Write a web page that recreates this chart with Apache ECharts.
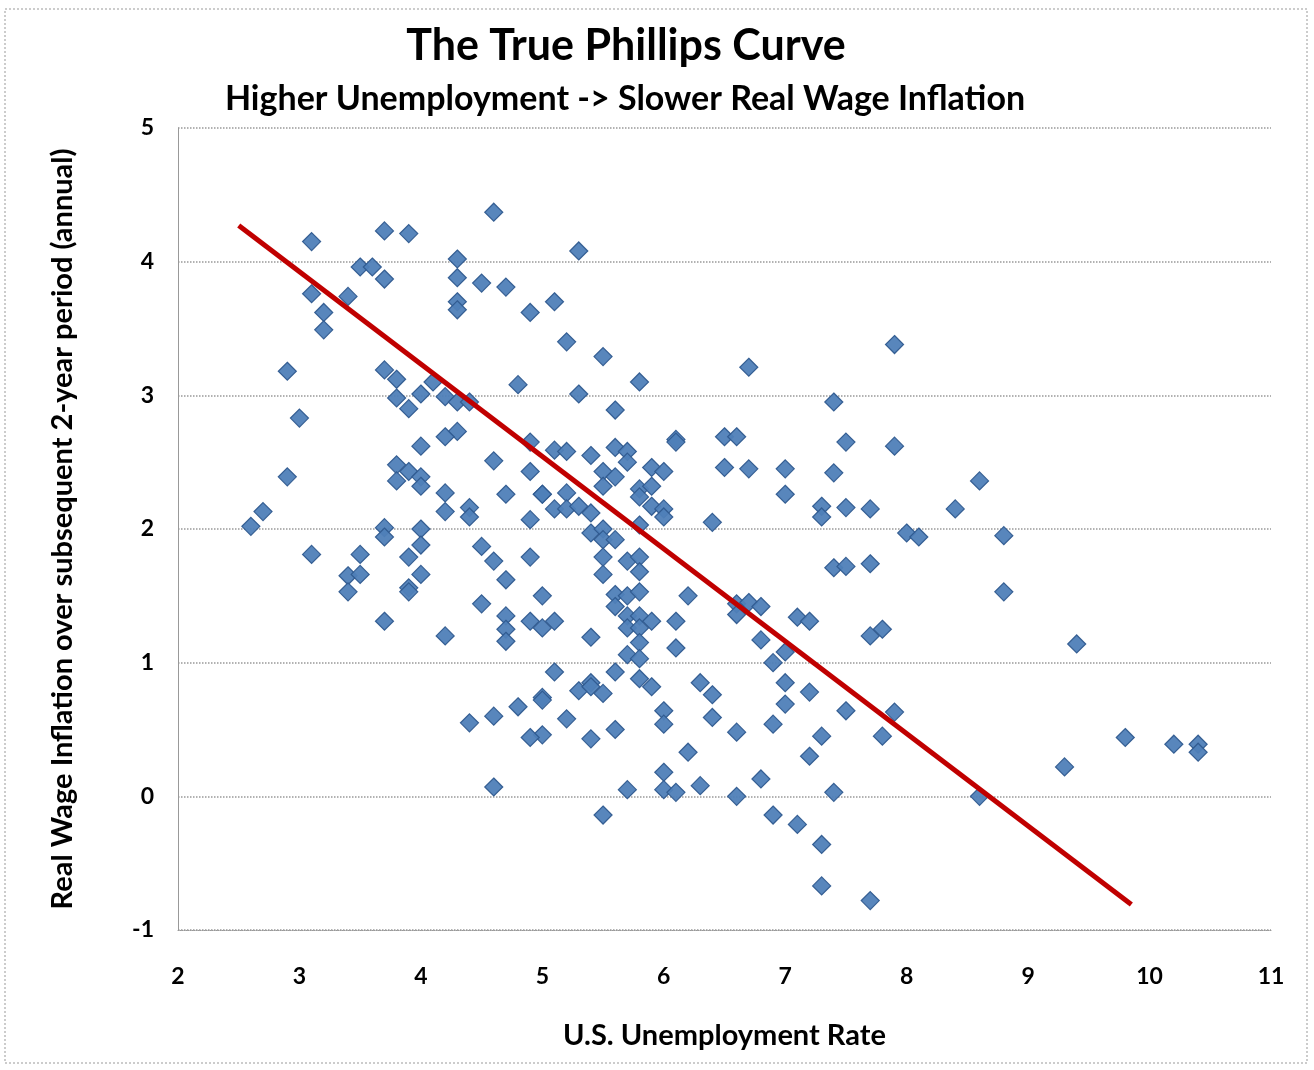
<!DOCTYPE html>
<html>
<head>
<meta charset="utf-8">
<title>The True Phillips Curve</title>
<script src="https://cdn.jsdelivr.net/npm/echarts@6/dist/echarts.min.js"></script>
<style>
  html, body { margin: 0; padding: 0; background: #fff; }
  #chart { width: 1314px; height: 1070px; }
</style>
</head>
<body>
<div id="chart"></div>
<script>
// unemployment rate (x) and real wage inflation over next 2 years (y)
const unemp = [
  2.9, 3.0, 3.1, 3.1, 3.2, 3.2, 3.4, 3.5, 3.6, 3.7, 3.7, 3.9, 3.7, 3.8, 3.8, 3.9, 4.0, 4.1, 4.2, 4.3,
  4.4, 4.3, 4.2, 4.3, 4.3, 4.3, 4.3, 4.5, 4.6, 4.7, 4.9, 4.8, 5.1, 5.2, 5.3, 5.3, 5.5, 5.6, 5.8, 6.7,
  7.4, 7.9, 4.0, 4.9, 6.1, 6.5, 6.6, 7.5, 7.9,
  2.6, 2.7, 2.9, 3.8, 3.9, 4.0, 3.8, 4.0, 4.2, 4.6, 4.9, 4.2, 4.4, 4.4, 4.7, 4.9, 5.0, 3.7, 4.0, 5.1,
  5.2, 5.4, 5.6, 5.7, 5.7, 6.1, 6.5, 6.7, 7.0, 7.4, 5.5, 5.6, 5.9, 6.0, 5.0, 5.2, 5.1, 5.2, 5.3, 5.4,
  5.5, 5.8, 5.8, 5.9, 5.9, 6.0, 6.0, 7.0, 7.3, 7.3, 7.5, 7.7, 6.4, 5.8, 5.4, 5.5, 5.5, 5.6, 8.0, 8.1,
  8.4, 8.6, 8.8,
  3.1, 3.7, 4.0, 3.5, 3.9, 4.5, 4.6, 4.9, 4.7, 3.4, 3.5, 3.4, 4.0, 3.9, 3.9, 4.5, 4.7, 4.7, 4.7, 4.9,
  5.0, 5.0, 3.7, 4.2, 5.5, 5.7, 5.8, 5.8, 5.5, 7.4, 7.5, 7.7, 5.6, 5.7, 5.8, 6.2, 5.6, 6.6, 6.7, 6.8,
  6.6, 5.1, 5.7, 5.8, 5.9, 5.7, 5.8, 6.1, 7.1, 7.2, 5.4, 5.8, 6.1, 6.8, 7.7, 7.8, 5.7, 5.8, 6.9, 7.0,
  8.8, 9.4,
  5.1, 5.6, 5.4, 6.3, 7.0, 5.0, 5.3, 5.4, 5.5, 5.8, 5.9, 6.4, 7.2, 7.0, 5.2, 5.0, 5.4, 5.6, 6.0, 6.0,
  6.4, 6.6, 6.9, 7.5, 7.3, 7.2, 7.8, 7.9, 4.4, 4.6, 4.8, 5.0, 4.9, 4.6, 6.2, 6.0, 5.7, 6.0, 6.1, 6.3,
  6.6, 6.8, 7.4, 5.5, 6.9, 7.1, 7.3, 7.3, 7.7, 8.6, 9.3, 9.8, 10.2, 10.4, 10.4
]
const wageInfl = [
  3.18, 2.83, 4.15, 3.76, 3.62, 3.49, 3.74, 3.96, 3.96, 4.23, 3.87, 4.21, 3.19, 3.12, 2.98, 2.90, 3.01, 3.10, 2.99, 2.95,
  2.95, 2.73, 2.69, 4.02, 3.88, 3.70, 3.64, 3.84, 4.37, 3.81, 3.62, 3.08, 3.70, 3.40, 4.08, 3.01, 3.29, 2.89, 3.10, 3.21,
  2.95, 3.38, 2.62, 2.65, 2.67, 2.69, 2.69, 2.65, 2.62,
  2.02, 2.13, 2.39, 2.48, 2.43, 2.39, 2.36, 2.32, 2.27, 2.51, 2.43, 2.13, 2.16, 2.09, 2.26, 2.07, 2.26, 2.01, 2.00, 2.59,
  2.58, 2.55, 2.61, 2.58, 2.50, 2.65, 2.46, 2.45, 2.45, 2.42, 2.43, 2.39, 2.46, 2.43, 2.26, 2.27, 2.15, 2.15, 2.17, 2.12,
  2.32, 2.30, 2.24, 2.32, 2.17, 2.15, 2.09, 2.26, 2.17, 2.09, 2.16, 2.15, 2.05, 2.03, 1.97, 2.00, 1.92, 1.92, 1.97, 1.94,
  2.15, 2.36, 1.95,
  1.81, 1.94, 1.88, 1.81, 1.79, 1.87, 1.76, 1.79, 1.62, 1.65, 1.66, 1.53, 1.66, 1.56, 1.53, 1.44, 1.35, 1.25, 1.16, 1.31,
  1.26, 1.50, 1.31, 1.20, 1.79, 1.76, 1.79, 1.68, 1.66, 1.71, 1.72, 1.74, 1.51, 1.50, 1.53, 1.50, 1.42, 1.44, 1.45, 1.42,
  1.36, 1.31, 1.35, 1.35, 1.31, 1.26, 1.26, 1.31, 1.34, 1.31, 1.19, 1.15, 1.11, 1.17, 1.20, 1.25, 1.06, 1.03, 1.00, 1.08,
  1.53, 1.14,
  0.93, 0.93, 0.85, 0.85, 0.85, 0.74, 0.79, 0.82, 0.77, 0.88, 0.82, 0.76, 0.78, 0.69, 0.58, 0.46, 0.43, 0.50, 0.64, 0.54,
  0.59, 0.48, 0.54, 0.64, 0.45, 0.30, 0.45, 0.63, 0.55, 0.60, 0.67, 0.72, 0.44, 0.07, 0.33, 0.18, 0.05, 0.05, 0.03, 0.08,
  0.00, 0.13, 0.03, -0.14, -0.14, -0.21, -0.36, -0.67, -0.78, 0.00, 0.22, 0.44, 0.39, 0.39, 0.33
]
// fitted line end points
const trendX = [2.5, 9.85]
const trendY = [4.27, -0.81]

const xTicks = [2, 11, 1] // min, max, step
const yTicks = [-1, 5, 1]

const font = 'Lato, "Open Sans", sans-serif'
const points = unemp.map((x, i) => [x, wageInfl[i]])
const trend = trendX.map((x, i) => [x, trendY[i]])

const chart = echarts.init(document.getElementById('chart'))
chart.setOption({
  backgroundColor: '#fff',
  animation: false,
  graphic: [
    {
      type: 'rect',
      shape: { x: 5, y: 9, width: 1302, height: 1054 },
      style: { fill: 'none', stroke: '#999', lineWidth: 1, lineDash: [2, 2] },
      silent: true
    },
    {
      type: 'text',
      x: 626,
      y: 46,
      style: {
        text: 'The True Phillips Curve',
        font: 'bold 43px ' + font,
        fill: '#000',
        align: 'center',
        verticalAlign: 'middle'
      }
    },
    {
      type: 'text',
      x: 625,
      y: 99,
      style: {
        text: 'Higher Unemployment -> Slower Real Wage Inflation',
        font: 'bold 34px ' + font,
        fill: '#000',
        align: 'center',
        verticalAlign: 'middle'
      }
    }
  ],
  grid: { left: 178, right: 43, top: 128, bottom: 140 },
  xAxis: {
    type: 'value',
    min: xTicks[0],
    max: xTicks[1],
    interval: xTicks[2],
    name: 'U.S. Unemployment Rate',
    nameLocation: 'middle',
    nameGap: 91,
    nameTextStyle: { fontFamily: font, fontWeight: 'bold', fontSize: 29, color: '#000' },
    axisLine: { onZero: false, lineStyle: { color: '#999', type: 'dotted' } },
    axisTick: { show: false },
    axisLabel: { fontFamily: font, fontWeight: 'bold', fontSize: 23, color: '#000', margin: 35 },
    splitLine: { show: false }
  },
  yAxis: {
    type: 'value',
    min: yTicks[0],
    max: yTicks[1],
    interval: yTicks[2],
    name: 'Real Wage Inflation over subsequent 2-year period (annual)',
    nameLocation: 'middle',
    nameGap: 101,
    nameRotate: 90,
    nameTextStyle: { fontFamily: font, fontWeight: 'bold', fontSize: 29, color: '#000' },
    axisLine: { show: true, lineStyle: { color: '#999', width: 1 } },
    axisTick: { show: false },
    axisLabel: { fontFamily: font, fontWeight: 'bold', fontSize: 23, color: '#000', margin: 24 },
    splitLine: { show: true, lineStyle: { color: '#999', type: 'dotted', width: 1.5 } }
  },
  series: [
    {
      type: 'scatter',
      data: points,
      symbol: 'diamond',
      symbolSize: [18, 18],
      itemStyle: { color: '#4f7fb8', borderColor: '#2f5a8f', borderWidth: 1.2, opacity: 0.95 },
      z: 2
    },
    {
      type: 'line',
      data: trend,
      symbol: 'none',
      lineStyle: { color: '#c00000', width: 5 },
      z: 3
    }
  ]
})
</script>
</body>
</html>
